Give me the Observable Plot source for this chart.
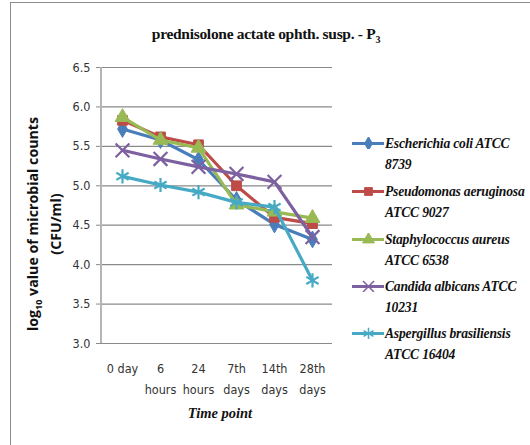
<!DOCTYPE html>
<html><head><meta charset="utf-8">
<script src="https://cdn.jsdelivr.net/npm/d3@7"></script>
<script src="https://cdn.jsdelivr.net/npm/@observablehq/plot@0.6"></script>
<style>
body{margin:0;background:#fff;}
#wrap{position:relative;width:530px;height:445px;overflow:hidden;}
#frame{position:absolute;left:10px;top:2px;width:540px;height:460px;border-left:1.5px solid #8c8c8c;border-top:1.5px solid #8c8c8c;}
.serif{font-family:"Liberation Serif","Times New Roman",serif;font-weight:bold;color:#111;}
#title{position:absolute;left:0;width:532px;top:25px;text-align:center;font-size:15.5px;letter-spacing:-0.3px;}
#xtitle{position:absolute;left:120px;width:200px;top:405px;text-align:center;font-size:14.5px;font-style:italic;}
#ytitle{position:absolute;left:44px;top:224px;transform:translate(-50%,-50%) rotate(-90deg);white-space:nowrap;text-align:center;font-family:"Open Sans","DejaVu Sans",sans-serif;font-weight:bold;font-size:14.2px;line-height:17px;color:#111;}
#legend{position:absolute;left:352px;top:0;}
.li{position:absolute;left:0;width:180px;}
.li svg{position:absolute;left:0;top:-6px;}
.li div{position:absolute;left:33px;top:-10px;font-size:13.6px;font-style:italic;line-height:21px;white-space:nowrap;letter-spacing:-0.2px;}
svg.plot{position:absolute;left:0;top:0;}
</style></head>
<body>
<div id="wrap">
<div id="frame"></div>
<div id="chart"></div>
<div id="title" class="serif">prednisolone actate ophth. susp. - P<sub style="font-size:10px">3</sub></div>
<div id="ytitle">log<sub style="font-size:9px">10</sub> value of microbial counts<br>(CFU/ml)</div>
<div id="xtitle" class="serif">Time point</div>
<div id="legend"></div>
</div>
<script>
const timePoints = ["0 day", "6\nhours", "24\nhours", "7th\ndays", "14th\ndays", "28th\ndays"];
const seriesNames = [
  "Escherichia coli ATCC\n8739",
  "Pseudomonas aeruginosa\nATCC 9027",
  "Staphylococcus aureus\nATCC 6538",
  "Candida albicans ATCC\n10231",
  "Aspergillus brasiliensis\nATCC 16404"
];
const ecoli       = [5.72, 5.58, 5.33, 4.82, 4.51, 4.32];
const pseudomonas = [5.83, 5.62, 5.52, 5.00, 4.60, 4.52];
const staph       = [5.87, 5.58, 5.48, 4.76, 4.67, 4.59];
const candida     = [5.45, 5.34, 5.24, 5.15, 5.05, 4.35];
const aspergillus = [5.12, 5.01, 4.92, 4.79, 4.73, 3.80];
const yTicks = [3.0, 3.5, 4.0, 4.5, 5.0, 5.5, 6.0, 6.5];

const colors = ["#4a7ebb", "#be4b48", "#98b954", "#7d60a0", "#46aac5"];
const symbols = ["diamond", "square", "triangle", "times", "asterisk"];
const filled = [true, true, true, false, false];
const sizes = [26, 30, 30, 40, 45];

const allSeries = [ecoli, pseudomonas, staph, candida, aspergillus];
const data = allSeries.flatMap((vals, s) => vals.map((v, i) => ({t: timePoints[i], v, s})));

const plotMarks = [];
allSeries.forEach((vals, s) => {
  const d = data.filter(p => p.s === s);
  plotMarks.push(Plot.line(d, {x: "t", y: "v", stroke: colors[s], strokeWidth: 3.2}));
  plotMarks.push(Plot.dot(d, {x: "t", y: "v", symbol: () => symbols[s], r: Math.sqrt(sizes[s]),
    fill: filled[s] ? colors[s] : "none", stroke: colors[s], strokeWidth: filled[s] ? 1 : 2.2}));
});

const chart = Plot.plot({
  width: 530, height: 445,
  marginLeft: 101, marginRight: 198, marginTop: 67, marginBottom: 102,
  style: {fontFamily: '"Liberation Sans Narrow","DejaVu Sans Condensed",sans-serif', fontSize: "12.5px", color: "#333", background: "transparent"},
  x: {type: "point", domain: timePoints, padding: 0.5, label: null},
  y: {domain: [3, 6.5], label: null},
  marks: [
    Plot.gridY(yTicks, {stroke: "#8a8a8a", strokeOpacity: 1, strokeWidth: 1.2}),
    Plot.axisY({ticks: yTicks, tickFormat: d3.format(".1f"), tickSize: 5, tickPadding: 6, stroke: "#8a8a8a", label: null}),
    Plot.axisX({tickSize: 0, tickPadding: 15, label: null, lineHeight: 1.65}),
    Plot.ruleY([3], {stroke: "#8a8a8a", strokeWidth: 1.2, insetLeft: -4}),
    ...plotMarks
  ]
});
document.getElementById("chart").appendChild(chart);

// vertical axis line at plot left
d3.select(chart).append("line").attr("x1", 101).attr("x2", 101).attr("y1", 67).attr("y2", 343)
  .attr("stroke", "#b5b5b5").attr("stroke-width", 2);

// legend
const legend = document.getElementById("legend");
const legendTops = [143, 191, 239, 286, 333];
seriesNames.forEach((name, s) => {
  const li = document.createElement("div");
  li.className = "li";
  li.style.top = legendTops[s] + "px";
  const sw = Plot.plot({
    width: 32, height: 12, margin: 0, axis: null,
    x: {domain: [0, 1]}, y: {domain: [0, 1]},
    style: {background: "transparent"},
    marks: [
      Plot.line([[0, 0.5], [1, 0.5]], {stroke: colors[s], strokeWidth: 3}),
      Plot.dot([[0.5, 0.5]], {symbol: () => symbols[s], r: Math.sqrt(sizes[s]) * 0.8,
        fill: filled[s] ? colors[s] : "none", stroke: colors[s], strokeWidth: filled[s] ? 1 : 1.5})
    ]
  });
  li.appendChild(sw);
  const tx = document.createElement("div");
  tx.className = "serif";
  tx.innerHTML = name.replace("\n", "<br>");
  li.appendChild(tx);
  legend.appendChild(li);
});
</script>
</body></html>
